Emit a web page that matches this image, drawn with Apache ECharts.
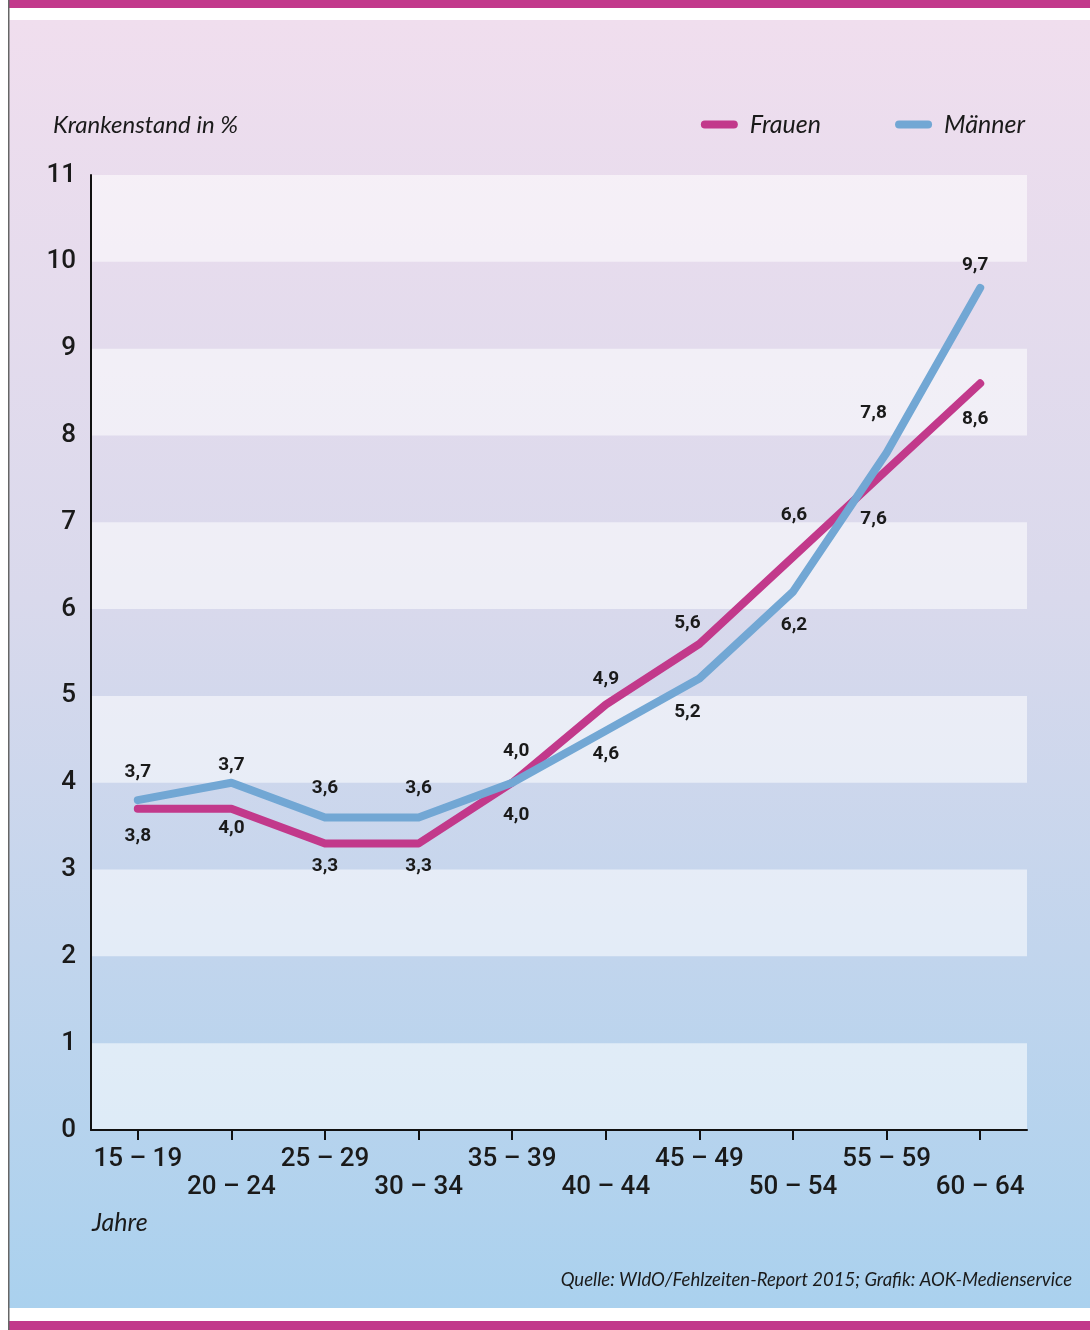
<!DOCTYPE html>
<html>
<head>
<meta charset="utf-8">
<script src="https://cdn.jsdelivr.net/npm/echarts@6/dist/echarts.min.js"></script>
<style>
  html, body { margin: 0; padding: 0; background: #fff; }
  #chart { width: 1090px; height: 1330px; }
</style>
</head>
<body>
<div id="chart"></div>
<script>
'use strict';
// Altersgruppen und Krankenstand in %
const ageGroups = ['15 – 19', '20 – 24', '25 – 29', '30 – 34', '35 – 39', '40 – 44', '45 – 49', '50 – 54', '55 – 59', '60 – 64'];
const frauen = [3.7, 3.7, 3.3, 3.3, 4.0, 4.9, 5.6, 6.6, 7.6, 8.6];
const maenner = [3.8, 4.0, 3.6, 3.6, 4.0, 4.6, 5.2, 6.2, 7.8, 9.7];
const yTicks = [0, 1, 2, 3, 4, 5, 6, 7, 8, 9, 10, 11];

// Lage der Werte-Beschriftung wie im Original (erste zwei Werte stehen vertauscht)
const frauenSide = ['top', 'top', 'bottom', 'bottom', 'bottom', 'top', 'top', 'top', 'bottom', 'bottom'];
const maennerSide = ['bottom', 'bottom', 'top', 'top', 'top', 'bottom', 'bottom', 'bottom', 'top', 'top'];
const frauenGap = [26, 33, 12, 12, 22, 15, 10, 31, 39, 25];
const maennerGap = [26, 35, 19, 19, 21, 13, 23, 23, 29, 12];
const labelShiftX = [0, 0, 0, 0, 4, 0, -12, 1, -13, -5];

const MAGENTA = '#c2398b';
const BLUE = '#72a7d4';

let fmt = function(v) {
    return v.toFixed(1).replace('.', ',');
};

let buildData = function(values, sides, gaps) {
    return values.map(function(v, i) {
        return {
            value: v,
            label: {
                position: sides[i],
                distance: gaps[i],
                offset: [labelShiftX[i], 0]
            }
        };
    });
};

let labelStyle = {
    show: true,
    formatter: function(p) { return fmt(p.value); },
    fontFamily: 'Roboto',
    fontWeight: 'bold',
    fontSize: 19,
    color: '#1a1a1a',
    opacity: 1
};

let myChart = echarts.init(document.getElementById('chart'));

let option = {
    backgroundColor: '#ffffff',
    animation: false,
    graphic: [
        {
            type: 'rect', z: -100, silent: true,
            shape: { x: 9, y: 20, width: 1081, height: 1288 },
            style: {
                fill: new echarts.graphic.LinearGradient(0, 0, 0, 1, [
                    { offset: 0, color: '#f0deee' },
                    { offset: 0.45, color: '#d9d9ec' },
                    { offset: 1, color: '#aad1ee' }
                ])
            }
        },
        { type: 'rect', z: -100, silent: true, shape: { x: 9, y: 0, width: 1081, height: 8 }, style: { fill: MAGENTA } },
        { type: 'rect', z: -100, silent: true, shape: { x: 9, y: 1321, width: 1081, height: 9 }, style: { fill: MAGENTA } },
        { type: 'rect', z: -99, silent: true, shape: { x: 8, y: 0, width: 1.5, height: 1330 }, style: { fill: '#666666' } },
        {
            type: 'text', left: 53, top: 113, silent: true,
            style: { text: 'Krankenstand in %', font: 'italic 24px Lato', fill: '#1a1a1a' }
        },
        {
            type: 'text', left: 92, top: 1210, silent: true,
            style: { text: 'Jahre', font: 'italic 25px Lato', fill: '#1a1a1a' }
        },
        {
            type: 'text', right: 18, top: 1271, silent: true,
            style: { text: 'Quelle: WIdO/Fehlzeiten-Report 2015; Grafik: AOK-Medienservice', font: 'italic 18.5px Lato', fill: '#1a1a1a' }
        }
    ],
    legend: {
        top: 107,
        right: 60,
        itemWidth: 37,
        itemHeight: 8,
        itemGap: 74,
        icon: 'path://M4,0 H33 A4,4 0 0 1 33,8 H4 A4,4 0 0 1 4,0 Z',
        textStyle: {
            fontFamily: 'Lato',
            fontStyle: 'italic',
            fontSize: 25,
            color: '#1a1a1a',
            padding: [0, 0, 0, 7]
        },
        data: [
            { name: 'Frauen', itemStyle: { color: MAGENTA, opacity: 1 } },
            { name: 'Männer', itemStyle: { color: BLUE, opacity: 1 } }
        ]
    },
    grid: {
        left: 91,
        right: 63,
        top: 175,
        bottom: 200,
        containLabel: false
    },
    xAxis: {
        type: 'category',
        data: ageGroups,
        boundaryGap: true,
        axisLine: { show: true, lineStyle: { color: '#111', width: 2 } },
        axisTick: { show: true, alignWithLabel: true, length: 10, lineStyle: { color: '#111', width: 2 } },
        axisLabel: {
            interval: 0,
            margin: 15,
            fontFamily: 'Roboto',
            fontWeight: 500,
            fontSize: 26,
            lineHeight: 28,
            color: '#1a1a1a',
            formatter: function(v, i) {
                return i % 2 ? '\n' + v : v;
            }
        },
        splitLine: { show: false }
    },
    yAxis: {
        type: 'value',
        min: yTicks[0],
        max: yTicks[yTicks.length - 1],
        interval: 1,
        axisLine: { show: true, lineStyle: { color: '#111', width: 2 } },
        axisTick: { show: false },
        axisLabel: {
            margin: 15,
            fontFamily: 'Roboto',
            fontWeight: 500,
            fontSize: 26,
            color: '#1a1a1a'
        },
        splitLine: { show: false },
        splitArea: {
            show: true,
            areaStyle: { color: ['rgba(255,255,255,0.55)', 'rgba(255,255,255,0)'] }
        }
    },
    series: [
        {
            name: 'Frauen',
            type: 'line',
            data: buildData(frauen, frauenSide, frauenGap),
            symbol: 'circle',
            symbolSize: 2,
            showSymbol: true,
            itemStyle: { color: 'rgba(0,0,0,0)' },
            lineStyle: { color: MAGENTA, width: 8, cap: 'round', join: 'round' },
            label: labelStyle,
            z: 3
        },
        {
            name: 'Männer',
            type: 'line',
            data: buildData(maenner, maennerSide, maennerGap),
            symbol: 'circle',
            symbolSize: 2,
            showSymbol: true,
            itemStyle: { color: 'rgba(0,0,0,0)' },
            lineStyle: { color: BLUE, width: 8, cap: 'round', join: 'round' },
            label: labelStyle,
            z: 4
        }
    ]
};

myChart.setOption(option);
</script>
</body>
</html>
